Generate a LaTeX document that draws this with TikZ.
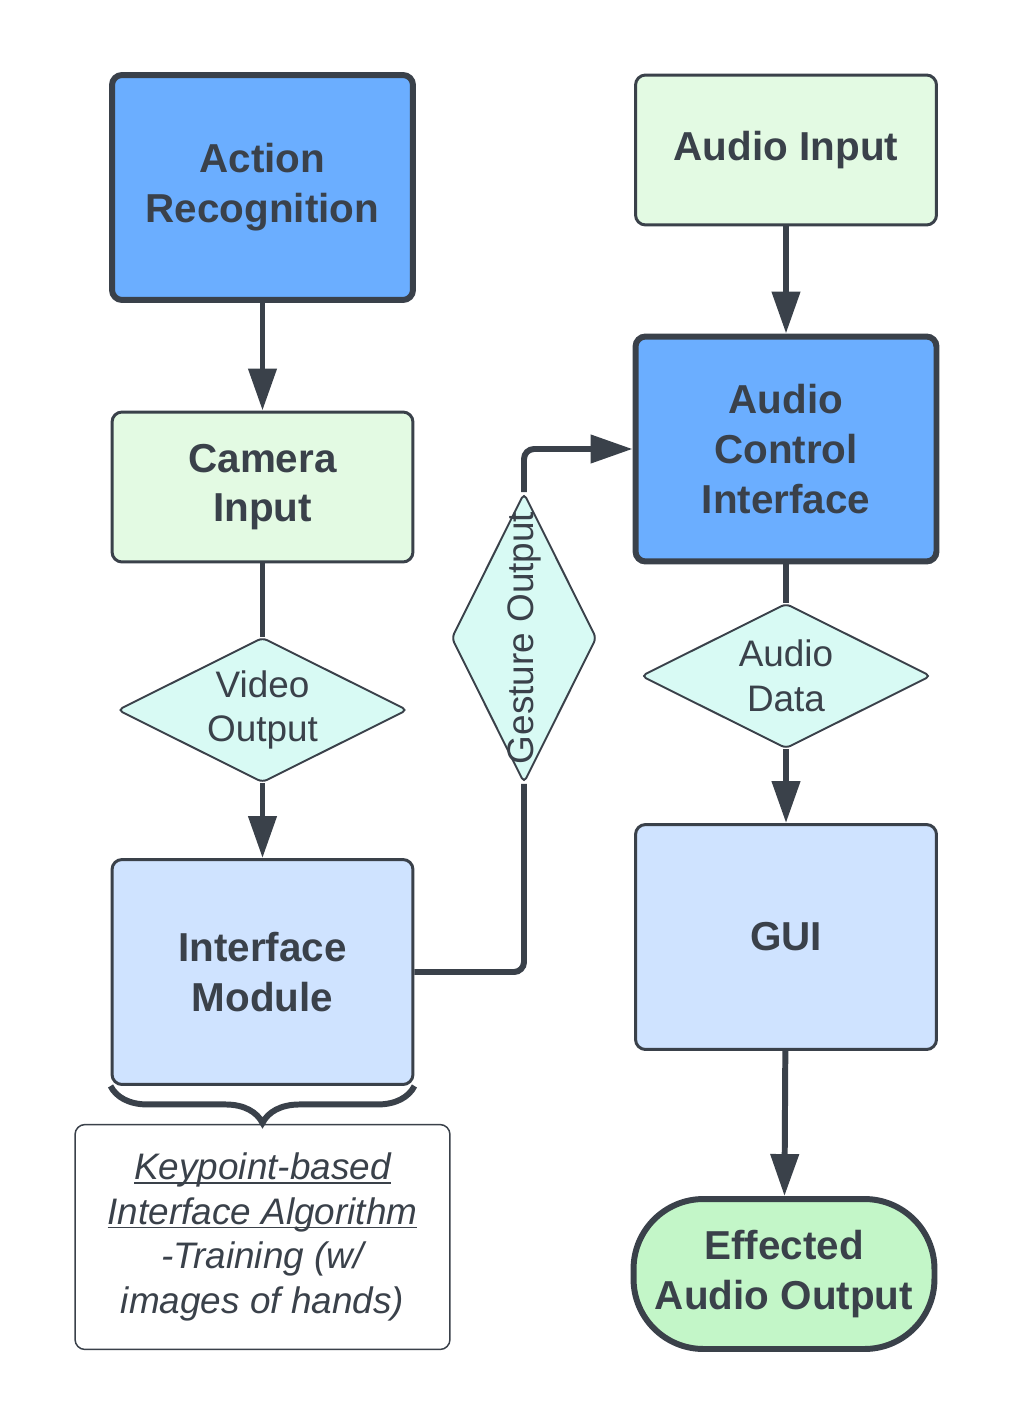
\documentclass[tikz,border=0pt]{standalone}
\usepackage{fontspec}
\setmainfont{Liberation Sans}
\usetikzlibrary{shapes.geometric,arrows.meta,decorations.pathreplacing}
\definecolor{ink}{HTML}{3A414A}
\definecolor{actblue}{HTML}{6BAEFF}
\definecolor{paleblue}{HTML}{CFE3FF}
\definecolor{palegreen}{HTML}{E3FAE3}
\definecolor{mint}{HTML}{C3F6C8}
\definecolor{palecyan}{HTML}{D8FAF4}
\newcommand\undl[1]{\setbox0\hbox{#1}\rlap{\rule[-2.4pt]{\wd0}{0.75pt}}\box0}
\begin{document}
\begin{tikzpicture}[x=0.02cm, y=-0.02cm,
		box/.style={draw=ink, line width=1.7pt, rounded corners=0.2cm, minimum width=6.02cm, text=ink, align=center, font=\bfseries\fontsize{23}{28.3}\selectfont},
		heavy/.style={box, line width=3.4pt, fill=actblue},
		choice/.style={diamond, aspect=2, draw=ink, line width=1.1pt, fill=palecyan, rounded corners=0.1cm, inner sep=0pt, minimum width=5.8cm, minimum height=2.9cm, text=ink, align=center, font=\fontsize{21}{25.5}\selectfont},
		flow/.style={draw=ink, line width=3.4pt, -{Triangle[length=0.84cm, width=0.55cm]}},
		link/.style={draw=ink, line width=3.4pt}]
		\useasboundingbox (0, 0) rectangle (1011, 1425);

		% left column
		\node[heavy, minimum height=4.5cm] (act) at (262.5, 187.5) {Action\\Recognition};
		\node[box, fill=palegreen, minimum height=3cm] (cam) at (262.5, 487) {Camera\\Input};
		\node[choice] (vid) at (262.5, 710) {Video\\Output};
		\node[box, fill=paleblue, minimum height=4.5cm] (iface) at (262.5, 972) {Interface\\Module};
		\node[draw=ink, line width=0.85pt, rounded corners=0.2cm, fill=white, minimum width=7.5cm, minimum height=4.5cm, text=ink, align=center, font=\itshape\fontsize{21}{25.5}\selectfont] (note) at (262.5, 1237) {\undl{Keypoint-based}\\\undl{Interface Algorithm}\\-Training (w/\\images of hands)};

		% middle
		\node[choice, rotate=90] (gest) at (524, 638) {\makebox[0pt]{Gesture Output}};

		% right column
		\node[box, fill=palegreen, minimum height=3cm] (ain) at (786, 150) {Audio Input};
		\node[heavy, minimum height=4.5cm] (aci) at (786, 449) {Audio\\Control\\Interface};
		\node[choice] (adata) at (786, 676) {Audio\\Data};
		\node[box, fill=paleblue, minimum height=4.5cm] (gui) at (786, 937) {GUI};
		\node[box, line width=3.4pt, fill=mint, rounded corners=1.4cm, minimum height=3cm] (eff) at (784, 1274) {Effected\\Audio Output};

		\draw[flow] (act) -- (cam);
		\draw[link] (cam) -- (vid);
		\draw[flow] (vid) -- (iface);
		\draw[link, rounded corners=0.2cm] (iface.east) -| (gest.west);
		\draw[flow, rounded corners=0.2cm] (gest.east) |- (aci.west);
		\draw[flow] (ain) -- (aci);
		\draw[link] (aci) -- (adata);
		\draw[flow] (adata) -- (gui);
		\draw[flow] (gui) -- (eff);

		\draw[link, decorate, decoration={brace, amplitude=0.74cm}] (iface.south east) -- (iface.south west);

	\end{tikzpicture}
\end{document}
